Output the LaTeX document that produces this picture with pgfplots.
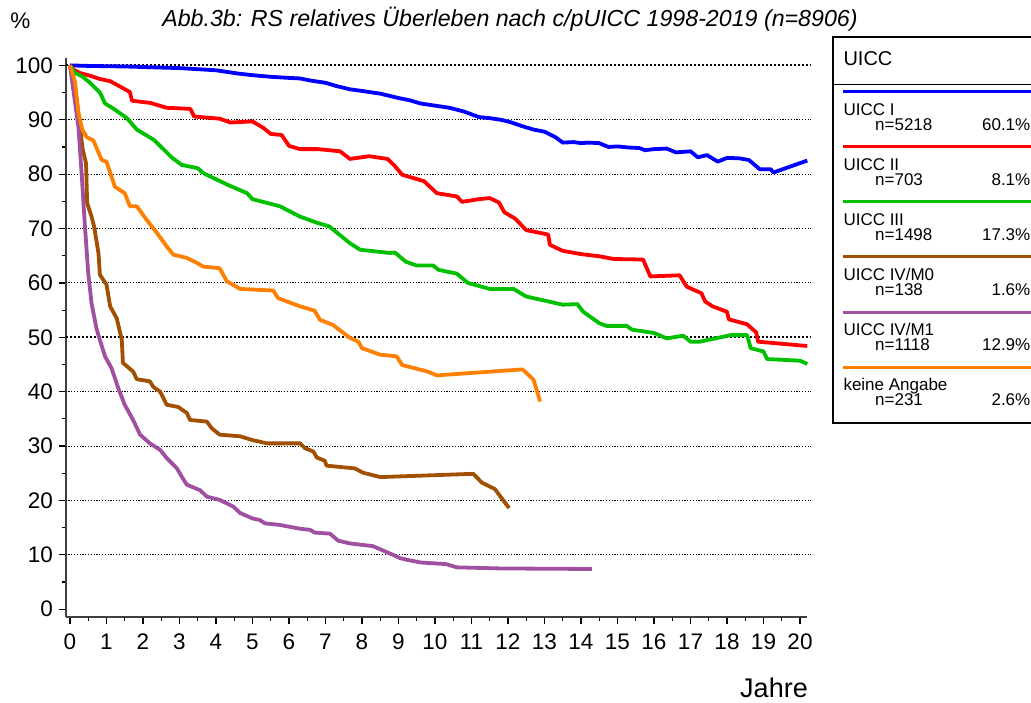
\documentclass[border=0pt]{standalone}
\usepackage{pgfplots}
\pgfplotsset{compat=1.18}
\usepackage{fontspec}
\setmainfont{Liberation Sans}
\definecolor{cI}{RGB}{0,0,255}
\definecolor{cII}{RGB}{255,0,0}
\definecolor{cIII}{RGB}{0,192,0}
\definecolor{cIVa}{RGB}{160,80,0}
\definecolor{cIVb}{RGB}{160,80,160}
\definecolor{cNA}{RGB}{255,128,0}
\begin{document}
\begin{tikzpicture}[x=1pt,y=1pt]
\useasboundingbox (0,0) rectangle (1031,703);
\begin{axis}[
  at={(65.6pt,85.6pt)}, anchor=south west,
  scale only axis, width=741.7pt, height=559.4pt,
  xmin=-0.12, xmax=20.2, ymin=-1.5, ymax=101.36,
  clip=false,
  axis x line*=bottom, axis y line*=left,
  axis line style={line width=2pt, black!75},
  xtick={0,1,...,20}, minor x tick num=1,
  ytick={0,10,...,100}, minor y tick num=1,
  tick align=outside,
  major tick length=6.5pt, minor tick length=3.5pt,
  tick style={black, line width=1.2pt},
  ticklabel style={font=\fontsize{22.5}{26}\selectfont, /pgf/number format/assume math mode=true, inner sep=0pt},
  xticklabel style={anchor=north, yshift=-10pt},
  yticklabel style={anchor=east, xshift=-6pt},
  every axis plot/.append style={line width=3.8pt, line join=round, no markers},
]
% grid lines
\foreach \g in {10,20,30,40,60,70,80,90}{
  \edef\tmp{\noexpand\draw[black, line width=1pt, dash pattern=on 1.2pt off 1.6pt] (axis cs:-0.12,\g) -- (axis cs:20.3,\g);}\tmp
}
\draw[black, line width=2pt, dash pattern=on 2pt off 2pt] (axis cs:-0.12,50) -- (axis cs:20.3,50);
\draw[black, line width=2pt, dash pattern=on 2pt off 2pt] (axis cs:-0.12,100) -- (axis cs:20.3,100);

\addplot[cI] coordinates {(0,100)(0.5,99.9)(1,99.85)(1.5,99.8)(2,99.7)(2.5,99.6)(3,99.5)(3.5,99.3)(4,99.1)(4.3,98.8)(4.6,98.5)(5,98.2)(5.5,97.9)(6,97.7)(6.3,97.6)(6.6,97.2)(7,96.8)(7.3,96.2)(7.67,95.6)(8,95.3)(8.5,94.8)(9,94.0)(9.3,93.6)(9.6,93.0)(10,92.6)(10.4,92.2)(10.8,91.5)(11.2,90.5)(11.5,90.3)(11.8,90.0)(12.05,89.6)(12.4,88.8)(12.7,88.2)(13.0,87.8)(13.3,86.8)(13.5,85.8)(13.8,85.9)(14.0,85.7)(14.2,85.8)(14.5,85.7)(14.75,85.0)(15.0,85.1)(15.3,84.9)(15.6,84.8)(15.75,84.4)(16.0,84.6)(16.35,84.7)(16.6,84.0)(17.0,84.2)(17.2,83.1)(17.45,83.5)(17.75,82.3)(18.0,83.0)(18.35,82.9)(18.6,82.6)(18.9,80.9)(19.2,80.9)(19.27,80.3)(20.2,82.5)};

\addplot[cII] coordinates {(0,100)(0.1,99.2)(0.27,98.6)(0.5,98.2)(0.82,97.5)(1.1,97.1)(1.4,96.0)(1.64,95.1)(1.7,93.5)(2.2,93.1)(2.65,92.2)(3.3,92.0)(3.4,90.6)(4.1,90.2)(4.4,89.5)(5.0,89.7)(5.3,88.5)(5.5,87.4)(5.8,87.2)(6.0,85.2)(6.3,84.6)(6.8,84.6)(7.4,84.2)(7.67,82.8)(8.2,83.3)(8.7,82.8)(8.9,81.5)(9.1,79.9)(9.7,78.7)(10.05,76.5)(10.6,75.9)(10.74,74.9)(11.2,75.4)(11.5,75.6)(11.75,74.8)(11.9,73.0)(12.2,71.8)(12.5,69.7)(13.1,68.9)(13.15,67.0)(13.5,65.9)(14.0,65.3)(14.5,64.9)(14.9,64.4)(15.7,64.3)(15.9,61.2)(16.7,61.4)(16.9,59.3)(17.3,58.1)(17.4,56.6)(17.6,55.7)(18.0,54.7)(18.05,53.3)(18.55,52.4)(18.8,50.9)(18.85,49.2)(20.2,48.4)};

\addplot[cIII] coordinates {(0,100)(0.14,98.6)(0.33,98.0)(0.55,96.8)(0.82,95.0)(0.96,93.0)(1.2,92.0)(1.56,90.3)(1.83,88.2)(2.3,86.3)(2.8,83.0)(3.06,81.7)(3.5,81.1)(3.65,80.2)(4.3,78.1)(4.85,76.5)(5.0,75.4)(5.75,74.1)(6.3,72.2)(6.75,71.1)(7.1,70.4)(7.67,67.3)(7.95,66.1)(8.77,65.5)(8.9,65.6)(9.2,63.9)(9.5,63.2)(9.95,63.2)(10.1,62.4)(10.6,61.7)(10.9,60.0)(11.5,58.9)(12.15,58.9)(12.5,57.5)(13.5,56.0)(13.9,56.1)(14.06,54.7)(14.5,52.6)(14.7,52.1)(15.25,52.1)(15.4,51.4)(16.0,50.8)(16.35,49.8)(16.8,50.3)(17.0,49.2)(17.26,49.2)(18.1,50.4)(18.55,50.4)(18.65,48.0)(19.0,47.4)(19.1,46.0)(20.0,45.7)(20.2,45.1)};

\addplot[cIVa] coordinates {(0,100)(0.18,93.7)(0.27,88.8)(0.35,84.5)(0.44,82.0)(0.47,74.7)(0.59,72.2)(0.66,70.4)(0.78,65.5)(0.82,61.5)(1.0,59.7)(1.1,55.7)(1.28,53.5)(1.42,49.5)(1.45,45.3)(1.73,43.7)(1.83,42.3)(2.19,41.9)(2.28,40.9)(2.47,40.0)(2.65,37.6)(2.96,37.2)(3.2,36.1)(3.29,34.8)(3.75,34.5)(3.88,33.3)(4.1,32.1)(4.66,31.8)(5.0,31.1)(5.4,30.5)(6.3,30.5)(6.44,29.6)(6.67,29.0)(6.76,27.9)(6.98,27.3)(7.03,26.4)(7.8,25.9)(8.03,25.1)(8.5,24.3)(11.05,24.9)(11.28,23.3)(11.64,22.1)(12.03,18.6)};

\addplot[cIVb] coordinates {(0,100)(0.14,93.1)(0.23,88.8)(0.33,79.0)(0.41,70.4)(0.5,61.8)(0.59,56.3)(0.73,51.5)(0.82,49.5)(0.96,46.5)(1.14,44.3)(1.32,40.7)(1.5,37.6)(1.73,34.8)(1.92,32.1)(2.19,30.5)(2.47,29.3)(2.65,27.8)(2.93,25.9)(3.06,24.4)(3.2,22.9)(3.56,21.9)(3.75,20.7)(4.1,20.1)(4.47,18.9)(4.66,17.7)(5.0,16.7)(5.2,16.4)(5.34,15.8)(5.75,15.5)(6.3,14.8)(6.58,14.6)(6.7,14.1)(7.12,13.9)(7.35,12.6)(7.67,12.1)(8.3,11.6)(8.54,10.9)(8.85,10.0)(9.04,9.4)(9.23,9.1)(9.6,8.6)(10.3,8.3)(10.6,7.7)(11.8,7.5)(14.3,7.4)};

\addplot[cNA] coordinates {(0,100)(0.14,96.9)(0.23,91.4)(0.33,88.3)(0.46,86.8)(0.64,86.2)(0.78,84.0)(0.87,82.6)(1.0,82.3)(1.23,77.7)(1.5,76.5)(1.64,74.1)(1.83,74.1)(2.1,71.6)(2.38,69.2)(2.65,66.7)(2.83,65.2)(3.2,64.6)(3.47,63.7)(3.65,63.0)(4.1,62.7)(4.3,60.3)(4.66,58.9)(5.57,58.6)(5.7,57.2)(6.3,55.7)(6.7,54.9)(6.85,53.2)(7.2,52.3)(7.67,49.9)(7.9,49.2)(8.0,48.0)(8.5,46.8)(8.95,46.5)(9.1,44.9)(9.8,43.7)(10.05,43.0)(12.4,44.1)(12.7,42.2)(12.88,38.2)};
\end{axis}

% title and labels
\node[font=\fontsize{23.2}{27}\selectfont\itshape] at (510,684) {Abb.3b: RS relatives Überleben nach c/pUICC 1998-2019 (n=8906)};
\node[font=\fontsize{22.5}{26}\selectfont] at (20.5,682) {\%};
\node[font=\fontsize{27}{31}\selectfont, inner sep=0pt, anchor=base] at (774,5) {Jahre};

% legend
\draw[black, line width=2pt] (833.3,703-37.3) rectangle (1036,703-423.3);
\draw[black, line width=1.5pt] (833.3,703-84.3) -- (1036,703-84.3);
\node[anchor=west, inner sep=0pt, font=\fontsize{20}{24}\selectfont] at (843.3,703-58.3) {UICC};
\foreach \i/\c/\name/\n/\p in {0/cI/{UICC I}/5218/60.1, 1/cII/{UICC II}/703/8.1, 2/cIII/{UICC III}/1498/17.3, 3/cIVa/{UICC IV/M0}/138/1.6, 4/cIVb/{UICC IV/M1}/1118/12.9, 5/cNA/{keine Angabe}/231/2.6}{
  \draw[\c, line width=3pt] (842.7,703-91.7-55.1*\i) -- (1036,703-91.7-55.1*\i);
  \node[anchor=base west, inner sep=0pt, font=\fontsize{17}{20}\selectfont] at (843.3,703-115.5-55.1*\i) {\name};
  \node[anchor=base west, inner sep=0pt, font=\fontsize{17}{20}\selectfont] at (875,703-130.5-55.1*\i) {n=\n};
  \node[anchor=base east, inner sep=0pt, font=\fontsize{17}{20}\selectfont] at (1030.5,703-130.5-55.1*\i) {\p\%};
}
\end{tikzpicture}
\end{document}
